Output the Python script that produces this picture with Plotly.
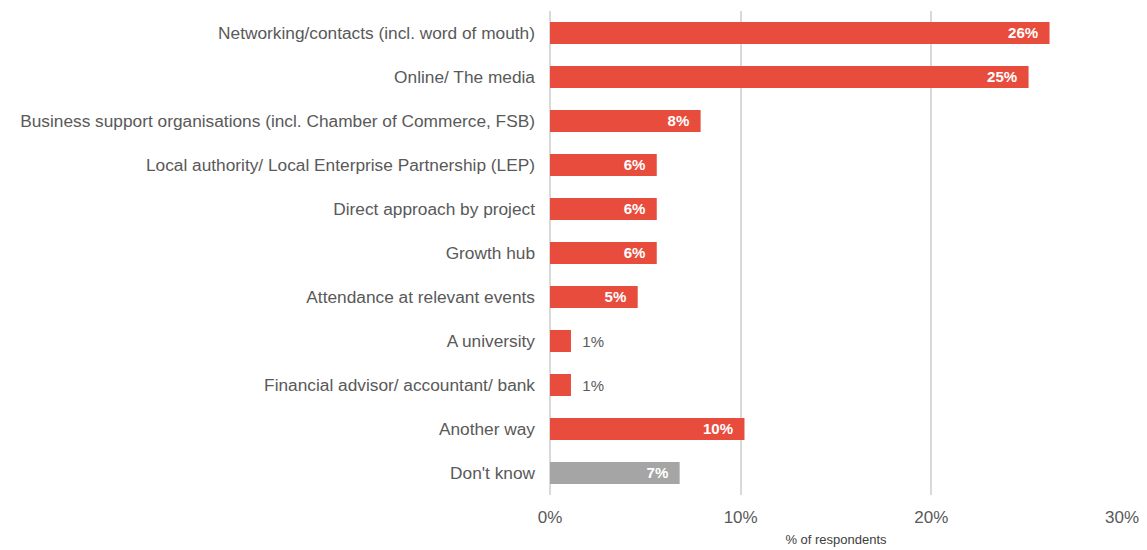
import plotly.graph_objects as go

# Sources through which respondents heard about the programme
categories = [
    "Networking/contacts (incl. word of mouth)",
    "Online/ The media",
    "Business support organisations (incl. Chamber of Commerce, FSB)",
    "Local authority/ Local Enterprise Partnership (LEP)",
    "Direct approach by project",
    "Growth hub",
    "Attendance at relevant events",
    "A university",
    "Financial advisor/ accountant/ bank",
    "Another way",
    "Don't know",
]
values = [26.2, 25.1, 7.9, 5.6, 5.6, 5.6, 4.6, 1.1, 1.1, 10.2, 6.8]

RED = "#E84C3D"
GREY = "#A5A5A5"
NBSP = "\u00a0"
bar_colors = [GREY if c == "Don't know" else RED for c in categories]
text_pos = ["outside" if v < 2 else "inside" for v in values]
# small bars get their label beside the bar, the rest inside near the end
templates = [
    (NBSP * 2 + "%{x:.0f}%") if p == "outside" else ("%{x:.0f}%" + NBSP * 2)
    for p in text_pos
]

FONT = "Liberation Sans, Arial"

fig = go.Figure(
    go.Bar(
        x=values,
        y=categories,
        orientation="h",
        marker=dict(color=bar_colors, line=dict(width=0)),
        texttemplate=templates,
        textposition=text_pos,
        insidetextanchor="end",
        insidetextfont=dict(family=FONT, size=16, color="white", weight="bold"),
        outsidetextfont=dict(family=FONT, size=15, color="#595959"),
        cliponaxis=False,
        hoverinfo="skip",
    )
)

fig.update_layout(
    width=1147,
    height=550,
    margin=dict(l=550, r=25, t=11, b=55),
    paper_bgcolor="white",
    plot_bgcolor="white",
    bargap=0.5,
    showlegend=False,
    font=dict(family=FONT, color="#595959"),
    xaxis=dict(
        range=[0, 30],
        tickvals=[0, 10, 20, 30],
        ticktext=["0%", "10%", "20%", "30%"],
        tickfont=dict(size=17, color="#595959"),
        showgrid=True,
        gridcolor="#D9D9D9",
        gridwidth=1.5,
        zeroline=True,
        zerolinecolor="#D9D9D9",
        zerolinewidth=1.5,
        showline=False,
        ticks="",
        ticklabelstandoff=10,
        automargin=False,
        title=dict(text="% of respondents", font=dict(size=13, color="#404040"), standoff=8),
        fixedrange=True,
    ),
    yaxis=dict(
        autorange="reversed",
        tickfont=dict(size=17.3, color="#595959"),
        showgrid=False,
        zeroline=False,
        showline=False,
        ticks="",
        ticklabelstandoff=14,
        automargin=False,
        fixedrange=True,
    ),
)

fig.write_html("out.html")
